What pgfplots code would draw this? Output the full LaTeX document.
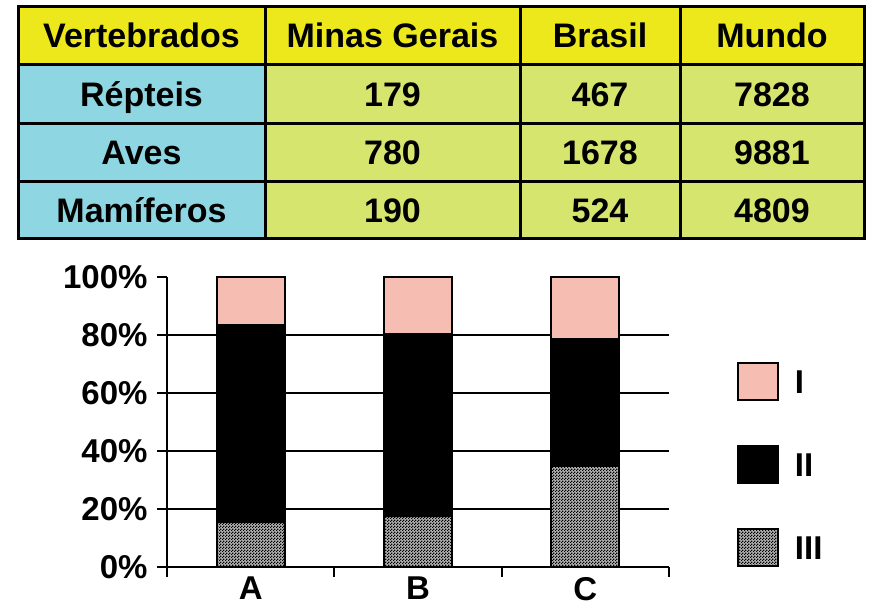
\documentclass[border=0pt]{standalone}
\usepackage{fontspec}
\setmainfont{Liberation Sans}
\usepackage{pgfplots}
\pgfplotsset{compat=1.18}
\usetikzlibrary{patterns}
\definecolor{hdr}{RGB}{236,232,28}
\definecolor{cell}{RGB}{213,229,110}
\definecolor{rowh}{RGB}{142,214,226}
\definecolor{pinkI}{RGB}{246,190,178}
\pgfdeclarepatternformonly{finechecker}{\pgfpointorigin}{\pgfqpoint{3pt}{3pt}}{\pgfqpoint{3pt}{3pt}}{%
  \pgfpathrectangle{\pgfpointorigin}{\pgfqpoint{1.5pt}{1.5pt}}%
  \pgfpathrectangle{\pgfqpoint{1.5pt}{1.5pt}}{\pgfqpoint{1.5pt}{1.5pt}}%
  \pgfusepath{fill}}
\begin{document}
\begin{tikzpicture}[x=1pt,y=1pt,font=\fontsize{33}{36}\selectfont\bfseries]
\useasboundingbox (0,0) rectangle (879,609);
% table
\fill[hdr] (18,544) rectangle (864,602);
\fill[rowh] (18,370) rectangle (265,544);
\fill[cell] (265,370) rectangle (864,544);
\foreach \x in {265,520,680} \draw[line width=3pt] (\x,370) -- (\x,602);
\foreach \y in {544,485,427} \draw[line width=3pt] (18,\y) -- (864,\y);
\draw[line width=3pt] (18,370) rectangle (864,602);
\begin{scope}[every node/.style={anchor=base, inner sep=0pt, font=\fontsize{34}{36}\selectfont\bfseries}]
\node at (141.5,561) {Vertebrados};
\node at (392.5,561) {Minas Gerais};
\node at (600,561) {Brasil};
\node at (772,561) {Mundo};
\node at (141.5,502.5) {Répteis};
\node at (141.5,444) {Aves};
\node at (141.5,386.5) {Mamíferos};
\node at (392.5,502.5) {179};
\node at (600,502.5) {467};
\node at (772,502.5) {7828};
\node at (392.5,444) {780};
\node at (600,444) {1678};
\node at (772,444) {9881};
\node at (392.5,386.5) {190};
\node at (600,386.5) {524};
\node at (772,386.5) {4809};
\end{scope}
% chart
\begin{axis}[
  at={(167pt,42pt)}, anchor=south west,
  width=502pt, height=290pt, scale only axis,
  xmin=-0.5, xmax=2.5, ymin=0, ymax=100,
  axis lines=left, axis line style={-, line width=2pt, black},
  ybar stacked, bar width=68pt,
  ytick={0,20,40,60,80,100},
  yticklabels={0\%,20\%,40\%,60\%,80\%,100\%},
  yticklabel style={xshift=-6pt},
  extra y ticks={20,40,60,80}, extra y tick labels={},
  extra y tick style={grid=major, major tick length=0pt},
  grid style={black, line width=2pt},
  xtick={-0.5,0.5,1.5,2.5}, xticklabels={},
  extra x ticks={0,1,2}, extra x tick labels={A,B,C},
  extra x tick style={major tick length=0pt, xticklabel style={anchor=north, inner sep=0pt, text depth=0pt, yshift=-10pt}},
  tick align=outside, major tick length=10pt,
  tick style={line width=2pt, black},
  tick label style={font=\fontsize{33}{36}\selectfont\bfseries},
  legend cell align=left,
  legend style={draw=none, fill=none, at={(axis description cs:1.135,0.706)}, anchor=north west, row sep=44pt, column sep=14pt, inner sep=0pt, font=\fontsize{33}{36}\selectfont\bfseries},
  legend image code/.code={\draw[#1, line width=2pt] (0pt,-18pt) rectangle (40pt,19pt);},
  reverse legend,
]
\addplot[fill=black!30, postaction={pattern=finechecker}, draw=black, line width=2pt] coordinates {(0,15.6) (1,17.5) (2,34.8)};
\addplot[fill=black, draw=black, line width=2pt] coordinates {(0,67.9) (1,62.9) (2,43.9)};
\addplot[fill=pinkI, draw=black, line width=2pt] coordinates {(0,16.5) (1,19.6) (2,21.3)};
\legend{III,II,I}
\end{axis}
\end{tikzpicture}
\end{document}
